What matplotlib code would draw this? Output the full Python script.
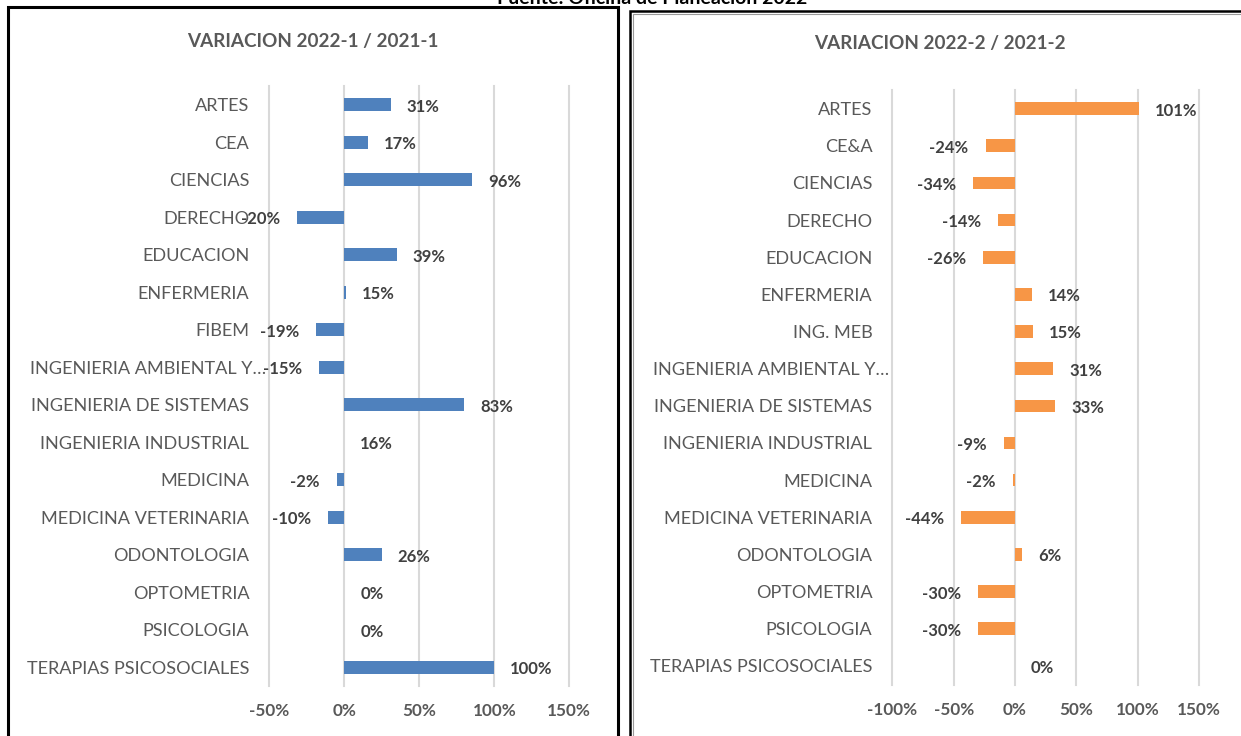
#!/usr/bin/env python3
"""Variacion de inscritos por facultad, dos periodos lado a lado."""

import matplotlib
matplotlib.use("Agg")
import matplotlib.pyplot as plt
from matplotlib.patches import Rectangle
from matplotlib.transforms import ScaledTranslation

W,H,DPI=1241,736,100
FONT="Lato"
plt.rcParams["font.family"]=[FONT,"DejaVu Sans"]

CATS_1=["ARTES","CEA","CIENCIAS","DERECHO","EDUCACION","ENFERMERIA","FIBEM","INGENIERIA AMBIENTAL Y…","INGENIERIA DE SISTEMAS","INGENIERIA INDUSTRIAL","MEDICINA","MEDICINA VETERINARIA","ODONTOLOGIA","OPTOMETRIA","PSICOLOGIA","TERAPIAS PSICOSOCIALES"]
# bar lengths as drawn (the printed labels do not always agree with them)
BARS_1=[0.31,0.16,0.85,-0.315,0.35,0.01,-0.19,-0.17,0.80,0.0,-0.05,-0.11,0.25,0.0,0.0,1.00]
LABELS_1=["31%","17%","96%","-20%","39%","15%","-19%","-15%","83%","16%","-2%","-10%","26%","0%","0%","100%"]
TICKS_1=[-0.5,0,0.5,1.0,1.5]

CATS_2=["ARTES","CE&A","CIENCIAS","DERECHO","EDUCACION","ENFERMERIA","ING. MEB","INGENIERIA AMBIENTAL Y…","INGENIERIA DE SISTEMAS","INGENIERIA INDUSTRIAL","MEDICINA","MEDICINA VETERINARIA","ODONTOLOGIA","OPTOMETRIA","PSICOLOGIA","TERAPIAS PSICOSOCIALES"]
BARS_2=[1.01,-0.24,-0.34,-0.14,-0.26,0.14,0.15,0.31,0.33,-0.09,-0.02,-0.44,0.06,-0.30,-0.30,0.0]
LABELS_2=[f"{round(v*100):.0f}%" for v in BARS_2]
TICKS_2=[-1.0,-0.5,0,0.5,1.0,1.5]

TITLES=["VARIACION 2022-1 / 2021-1","VARIACION 2022-2 / 2021-2"]
SOURCE="Fuente: Oficina de Planeación 2022"


def px_box(x0,x1,ytop,ybot):
    return [x0/W,1-ybot/H,(x1-x0)/W,(ybot-ytop)/H]


def panel(fig,box,cats,bars,labels,ticks,color):
    ax=fig.add_axes(box)
    y=list(range(len(cats)))
    ax.barh(y,bars,height=0.34,color=color,zorder=3)
    ax.set_xlim(ticks[0],ticks[-1]);ax.set_ylim(len(cats)-0.5,-0.5)
    ax.set_xticks(ticks);ax.set_xticklabels([f"{t*100:.0f}%" for t in ticks])
    ax.set_yticks(y);ax.set_yticklabels(cats)
    ax.tick_params(axis="both",length=0)
    ax.tick_params(axis="y",pad=14.4,labelsize=13.1,labelcolor="#595959")
    ax.tick_params(axis="x",pad=12.5,labelsize=12.3,labelcolor="#595959")
    for t in ax.get_xticklabels():t.set_fontweight("bold")
    for t in ax.get_yticklabels():
        if t.get_text().endswith("…"):t.set_transform(t.get_transform()+ScaledTranslation(0.17,0,fig.dpi_scale_trans))
    ax.grid(axis="x",color="#D9D9D9",linewidth=1.5,zorder=0);ax.grid(axis="y",visible=False)
    for line in ax.get_xgridlines():line.set_clip_on(False)
    for s in ax.spines.values():s.set_visible(False)
    for yi,(b,lab) in enumerate(zip(bars,labels)):
        neg=b<0
        ax.annotate(lab,(b,yi),xytext=(-12.2 if neg else 11.5,-1.4),textcoords="offset points",ha="right" if neg else "left",va="center",fontsize=12,fontweight="bold",color="#404040")
    return ax


def main():
    fig=plt.figure(figsize=(W/DPI,H/DPI),dpi=DPI)
    panel(fig,px_box(269.3,569.3,86,686),CATS_1,BARS_1,LABELS_1,TICKS_1,"#4F81BD")
    panel(fig,px_box(892.3,1199,90,684.5),CATS_2,BARS_2,LABELS_2,TICKS_2,"#F79646")
    fig.text(313/W,1-41.7/H,TITLES[0],ha="center",va="center",fontsize=13.6,fontweight="bold",color="#595959")
    fig.text(940/W,1-44/H,TITLES[1],ha="center",va="center",fontsize=13.6,fontweight="bold",color="#595959")
    fig.text(652/W,1+1/H,SOURCE,ha="center",va="center",fontsize=14,fontweight="bold",color="black")
    fig.add_artist(Rectangle((8/W,-0.05),(618-8)/W,1.05-7/H,transform=fig.transFigure,fill=False,edgecolor="black",linewidth=2.2))
    fig.add_artist(Rectangle((630/W,-0.05),0.5,1.05-11/H,transform=fig.transFigure,fill=False,edgecolor="black",linewidth=1.8))
    fig.add_artist(Rectangle((632.5/W,-0.05),0.5,1.05-13.5/H,transform=fig.transFigure,fill=False,edgecolor="#9a9a9a",linewidth=0.8))
    fig.savefig("out.png",dpi=DPI)


if __name__=="__main__":main()
